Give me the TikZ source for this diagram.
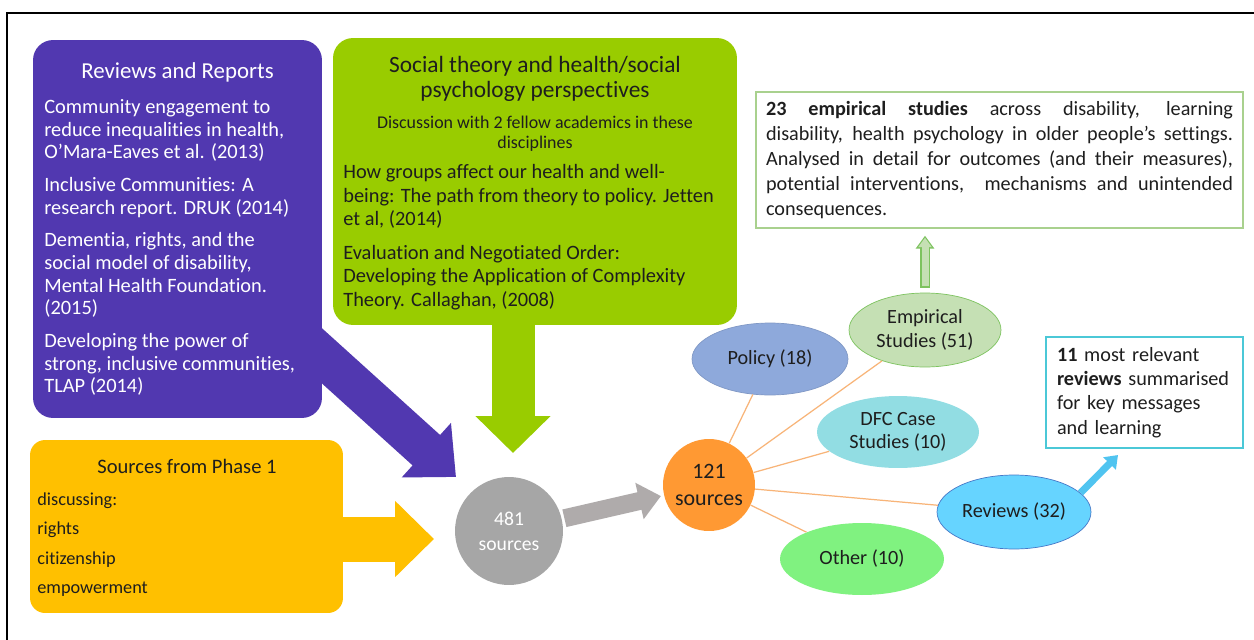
\documentclass[tikz,border=0pt]{standalone}
\usepackage{fontspec}
\setmainfont{Carlito}[Ligatures=NoCommon]
\usetikzlibrary{arrows.meta,shapes.geometric}

\definecolor{litpurple}{RGB}{81,56,176}
\definecolor{socgreen}{RGB}{153,204,0}
\definecolor{phaseyellow}{RGB}{255,192,0}
\definecolor{poolgray}{RGB}{166,166,166}
\definecolor{arrgray}{RGB}{175,171,171}
\definecolor{keptorange}{RGB}{255,153,51}
\definecolor{polblue}{RGB}{142,169,219}
\definecolor{empfill}{RGB}{197,224,180}
\definecolor{empedge}{RGB}{125,195,95}
\definecolor{dfccyan}{RGB}{146,221,227}
\definecolor{revfill}{RGB}{102,212,255}
\definecolor{revedge}{RGB}{70,120,200}
\definecolor{othgreen}{RGB}{128,242,128}
\definecolor{notegreen}{RGB}{169,209,142}
\definecolor{notecyan}{RGB}{75,200,215}
\definecolor{arrcyan}{RGB}{80,196,240}
\definecolor{linkorange}{RGB}{248,180,120}
\definecolor{textdark}{RGB}{30,30,30}

\begin{document}
\begin{tikzpicture}[x=0.02cm,y=-0.02cm]
    \useasboundingbox (0,0) rectangle (1254,639);
    \fill[white] (0,0) rectangle (1254,639);
    \draw[line width=1.1pt] (7,650) |- (1265,13);

    \coordinate (littail) at (300,336);
    \coordinate (littip) at (456,477);
    \coordinate (soctip) at (513,453);
    \coordinate (phasetip) at (434,539);
    \coordinate (revnotetip) at (1118,455);
    \draw[litpurple, line width=0.82cm, -{Triangle[length=0.8cm,width=1.42cm]}] (littail) -- (littip);

    \begin{scope}
        \tikzstyle{every node}=[rounded corners=0.4cm, inner sep=0]
        \node[fill=litpurple, minimum width=5.78cm, minimum height=7.56cm] (lit) at (177.5,229) {};
        \node[fill=socgreen, minimum width=8.08cm, minimum height=5.74cm] (soc) at (535,181.5) {};
        \node[fill=phaseyellow, minimum width=6.26cm, minimum height=3.46cm, rounded corners=0.3cm] (phase) at (186.5,526.5) {};
    \end{scope}

    \begin{scope}
        \tikzstyle{every node}=[inner sep=0, align=left, anchor=north west, text=textdark]
        \node[text=white, anchor=center, font=\fontsize{13}{15}\selectfont] (littitle) at (177.5,72) {Reviews and Reports};
        \node[text=white, font=\fontsize{11.6}{12.9}\selectfont] (litbody) at (44,99) {Community engagement to\\reduce inequalities in health,\\O’Mara-Eaves et al. (2013)\\[5.7pt]Inclusive Communities: A\\research report. DRUK (2014)\\[5.7pt]Dementia, rights, and the\\social model of disability,\\Mental Health Foundation.\\(2015)\\[5.7pt]Developing the power of\\strong, inclusive communities,\\TLAP (2014)};
        \node[anchor=center, align=center, font=\fontsize{13.3}{14.2}\selectfont] (soctitle) at (535,78.5) {Social theory and health/social\\psychology perspectives};
        \node[anchor=center, align=center, font=\fontsize{10.2}{11.4}\selectfont] (socnote) at (535,134) {Discussion with 2 fellow academics in these\\disciplines};
        \node[font=\fontsize{11.6}{13.4}\selectfont] (socbody) at (343,164) {How groups affect our health and well-\\being: The path from theory to policy. Jetten\\et al, (2014)\\[5.7pt]Evaluation and Negotiated Order:\\Developing the Application of Complexity\\Theory. Callaghan, (2008)};
        \node[anchor=center, font=\fontsize{11.7}{14}\selectfont] (phasetitle) at (187,466) {Sources from Phase 1};
        \node[font=\fontsize{10.4}{16.7}\selectfont] (phasebody) at (37,492.5) {discussing:\\rights\\citizenship\\empowerment};
    \end{scope}

    \node[circle, fill=poolgray, minimum size=2.16cm, inner sep=0, text=white, align=center, font=\fontsize{11.2}{14.2}\selectfont] (pool) at (509,531) {481\\sources};
    \node[circle, fill=keptorange, minimum size=1.84cm, inner sep=0, text=textdark, align=center, font=\fontsize{12.5}{15.4}\selectfont] (kept) at (709,485) {121\\sources};

    \begin{scope}
        \tikzstyle{every node}=[ellipse, inner sep=0, align=center, text=textdark, font=\fontsize{11.5}{13.4}\selectfont]
        \node[fill=polblue, draw=polblue!90!black, minimum width=3.12cm, minimum height=1.44cm] (policy) at (770,359) {Policy (18)};
        \node[fill=empfill, draw=empedge, minimum width=3.04cm, minimum height=1.48cm] (empirical) at (925,330) {Empirical\\Studies (51)};
        \node[fill=dfccyan, minimum width=3.24cm, minimum height=1.44cm] (dfc) at (898,432) {DFC Case\\Studies (10)};
        \node[fill=revfill, draw=revedge, minimum width=3.08cm, minimum height=1.48cm] (reviews) at (1014,512) {Reviews (32)};
        \node[fill=othgreen, minimum width=3.28cm, minimum height=1.44cm] (other) at (862,559) {Other (10)};
    \end{scope}

    \begin{scope}
        \tikzstyle{every edge}=[draw, linkorange, line width=0.7pt]
        \path
        (kept) edge (policy)
        (kept) edge (empirical)
        (kept) edge (dfc)
        (kept) edge (reviews)
        (kept) edge (other);
    \end{scope}

    \node[draw=notegreen, line width=0.85pt, text width=9.34cm, inner xsep=0.2cm, inner ysep=0, minimum height=2.72cm, align=justify, text=textdark, font=\fontsize{11.5}{14.2}\selectfont] (empnote) at (999.5,160) {{\bfseries 23 empirical studies} across disability, learning\linebreak disability, health psychology in older people’s settings.\linebreak Analysed in detail for outcomes (and their measures),\linebreak potential interventions,\ \ mechanisms and unintended\linebreak consequences.};
    \node[draw=notecyan, line width=0.85pt, text width=3.5cm, inner xsep=0.22cm, inner ysep=0, minimum height=2.22cm, align=left, text=textdark, font=\fontsize{11.5}{13.8}\selectfont] (revnote) at (1144.5,392.5) {{\bfseries 11} most relevant\\{\bfseries reviews} summarised\\for key messages\\and learning};

    \draw[socgreen, line width=0.86cm, shorten <=-0.06cm, -{Triangle[length=0.74cm,width=1.46cm]}] (soctip |- soc.south) -- (soctip);
    \draw[phaseyellow, line width=0.9cm, shorten <=-0.06cm, -{Triangle[length=0.78cm,width=1.48cm]}] (phasetip -| phase.east) -- (phasetip);
    \draw[arrgray, line width=0.36cm, shorten <=0.05cm, shorten >=0.06cm, -{Triangle[length=0.44cm,width=0.72cm]}] (pool) -- (kept);
    \draw[arrcyan, line width=0.14cm, -{Triangle[length=0.24cm,width=0.34cm]}] (reviews.16) -- (revnotetip);
    \draw[empedge, line width=0.2cm, shorten <=0.1cm, shorten >=0.14cm, -{Triangle[length=0.26cm,width=0.36cm]}] (empirical.north) -- (empirical.north |- empnote.south);
    \draw[empfill, line width=0.14cm, shorten <=0.13cm, shorten >=0.18cm, -{Triangle[length=0.19cm,width=0.26cm]}] (empirical.north) -- (empirical.north |- empnote.south);
\end{tikzpicture}
\end{document}
